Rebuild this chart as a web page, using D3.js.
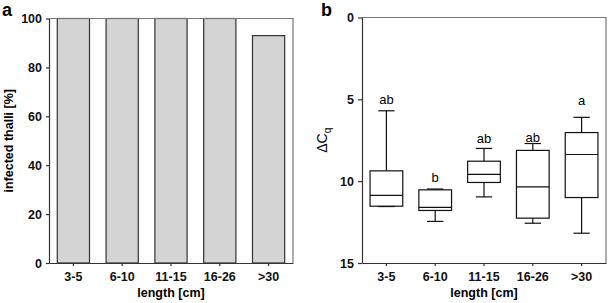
<!DOCTYPE html>
<html>
<head>
	<meta charset="UTF-8" />
	<title>infected thalli / delta Cq</title>
	<script src="https://d3js.org/d3.v7.min.js"></script>
	<style>
		body { margin: 0; background: #fff; }
		text { font-family: "Liberation Sans", Arial, sans-serif; }
	</style>
</head>
<body>
	<svg id="chart" style="width:609px; height:303px"></svg>

	<script type="text/javascript">

	// data
	var categories = ["3-5", "6-10", "11-15", "16-26", ">30"]
	var infected = [100, 100, 100, 100, 93]
	var yTicksA = [0, 20, 40, 60, 80, 100]

	// box plot values (delta Cq), whisker ends, box edges, median
	var cqLow = [5.7, 10.48, 8.0, 7.7, 6.1]
	var cqBoxLow = [9.37, 10.53, 8.78, 8.12, 7.03]
	var cqMedian = [10.87, 11.6, 9.59, 10.35, 8.37]
	var cqBoxHigh = [11.53, 11.79, 10.08, 12.26, 11.0]
	var cqHigh = [11.55, 12.46, 10.96, 12.57, 13.18]
	var groupLetters = ["ab", "b", "ab", "ab", "a"]
	var letterAt = [5.3, 10.04, 7.64, 7.6, 5.36]
	var yTicksB = [0, 5, 10, 15]

	var svg = d3.select("#chart")

	//========================================================================
	// panel a
	//========================================================================
	var ax = {left: 49, right: 293, top: 18.5, bottom: 263}

	var xA = d3.scaleBand().domain(categories).range([ax.left, ax.right])
		.paddingInner(0.34).paddingOuter(0.17)
	var yA = d3.scaleLinear().domain([0, 100]).range([ax.bottom, ax.top])

	var gA = svg.append("g")

	gA.selectAll("rect.bar")
		.data(infected)
		.enter()
		.append("rect")
		.attr("class", "bar")
		.attr("x", (d, i) => xA(categories[i]))
		.attr("width", xA.bandwidth())
		.attr("y", d => yA(d))
		.attr("height", d => yA(0) - yA(d))
		.attr("fill", "#d4d4d4")
		.attr("stroke", "#333")
		.attr("stroke-width", 1.2)

	// frame top / right
	gA.append("path")
		.attr("d", "M" + ax.left + "," + ax.top + "H" + ax.right + "V" + ax.bottom)
		.attr("fill", "none").attr("stroke", "#777").attr("stroke-width", 1.2)

	var yAxisA = gA.append("g")
		.attr("transform", "translate(" + ax.left + ",0)")
		.call(d3.axisLeft(yA).tickValues(yTicksA).tickSize(3).tickPadding(4).tickSizeOuter(0))
	var xAxisA = gA.append("g")
		.attr("transform", "translate(0," + ax.bottom + ")")
		.call(d3.axisBottom(xA).tickSize(3).tickPadding(6).tickSizeOuter(0))

	gA.append("text")
		.attr("x", (ax.left + ax.right) / 2).attr("y", 297)
		.attr("text-anchor", "middle")
		.style("font-size", "12.5px").style("font-weight", "bold")
		.text("length [cm]")
	gA.append("text")
		.attr("transform", "translate(13," + ((ax.top + ax.bottom) / 2) + ") rotate(-90)")
		.attr("text-anchor", "middle")
		.style("font-size", "12.5px").style("font-weight", "bold")
		.text("infected thalli [%]")
	gA.append("text")
		.attr("x", 2).attr("y", 16)
		.style("font-size", "18px").style("font-weight", "bold")
		.text("a")

	//========================================================================
	// panel b
	//========================================================================
	var bx = {left: 362, right: 606, top: 17.5, bottom: 263}

	var xB = d3.scaleBand().domain(categories).range([bx.left, bx.right])
		.paddingInner(0.33).paddingOuter(0.165)
	var yB = d3.scaleLinear().domain([0, 15]).range([bx.top, bx.bottom])

	var gB = svg.append("g")

	gB.append("path")
		.attr("d", "M" + bx.left + "," + bx.top + "H" + bx.right + "V" + bx.bottom)
		.attr("fill", "none").attr("stroke", "#777").attr("stroke-width", 1.2)

	var boxes = gB.selectAll("g.box")
		.data(categories)
		.enter()
		.append("g")
		.attr("class", "box")
		.attr("transform", d => "translate(" + xB(d) + ",0)")

	var bw = xB.bandwidth()
	var cap = bw / 2

	// whiskers
	boxes.append("line")
		.attr("x1", bw / 2).attr("x2", bw / 2)
		.attr("y1", (d, i) => yB(cqLow[i])).attr("y2", (d, i) => yB(cqBoxLow[i]))
	boxes.append("line")
		.attr("x1", bw / 2).attr("x2", bw / 2)
		.attr("y1", (d, i) => yB(cqBoxHigh[i])).attr("y2", (d, i) => yB(cqHigh[i]))
	boxes.append("line")
		.attr("x1", (bw - cap) / 2).attr("x2", (bw + cap) / 2)
		.attr("y1", (d, i) => yB(cqLow[i])).attr("y2", (d, i) => yB(cqLow[i]))
	boxes.append("line")
		.attr("x1", (bw - cap) / 2).attr("x2", (bw + cap) / 2)
		.attr("y1", (d, i) => yB(cqHigh[i])).attr("y2", (d, i) => yB(cqHigh[i]))
	boxes.append("rect")
		.attr("x", 0).attr("width", bw)
		.attr("y", (d, i) => yB(cqBoxLow[i]))
		.attr("height", (d, i) => yB(cqBoxHigh[i]) - yB(cqBoxLow[i]))
		.attr("fill", "none")
	boxes.append("line")
		.attr("x1", 0).attr("x2", bw)
		.attr("y1", (d, i) => yB(cqMedian[i])).attr("y2", (d, i) => yB(cqMedian[i]))
	boxes.selectAll("line, rect")
		.attr("stroke", "#111").attr("stroke-width", 1.2)

	boxes.append("text")
		.attr("x", bw / 2)
		.attr("y", (d, i) => yB(letterAt[i]))
		.attr("text-anchor", "middle")
		.style("font-size", "13px")
		.text((d, i) => groupLetters[i])

	var yAxisB = gB.append("g")
		.attr("transform", "translate(" + bx.left + ",0)")
		.call(d3.axisLeft(yB).tickValues(yTicksB).tickSize(4).tickPadding(4).tickSizeOuter(0))
	var xAxisB = gB.append("g")
		.attr("transform", "translate(0," + bx.bottom + ")")
		.call(d3.axisBottom(xB).tickSize(3).tickPadding(6).tickSizeOuter(0))

	gB.append("text")
		.attr("x", (bx.left + bx.right) / 2).attr("y", 297)
		.attr("text-anchor", "middle")
		.style("font-size", "12.5px").style("font-weight", "bold")
		.text("length [cm]")
	var cqLabel = gB.append("text")
		.attr("transform", "translate(327," + ((bx.top + bx.bottom) / 2) + ") rotate(-90)")
		.attr("text-anchor", "middle")
		.style("font-size", "14px")
	cqLabel.append("tspan").text("\u0394C")
	cqLabel.append("tspan").attr("dy", 4).style("font-size", "10px").text("q")
	gB.append("text")
		.attr("x", 321).attr("y", 16)
		.style("font-size", "18px").style("font-weight", "bold")
		.text("b")

	// axis styling
	svg.selectAll(".domain").attr("stroke", "#333").attr("stroke-width", 1.2)
	svg.selectAll(".tick line").attr("stroke", "#333").attr("stroke-width", 1.2)
	svg.selectAll(".tick text")
		.attr("fill", "#111")
		.style("font-family", "'Liberation Sans', Arial, sans-serif")
		.style("font-size", "12.5px").style("font-weight", "bold")

	</script>
</body>
</html>
